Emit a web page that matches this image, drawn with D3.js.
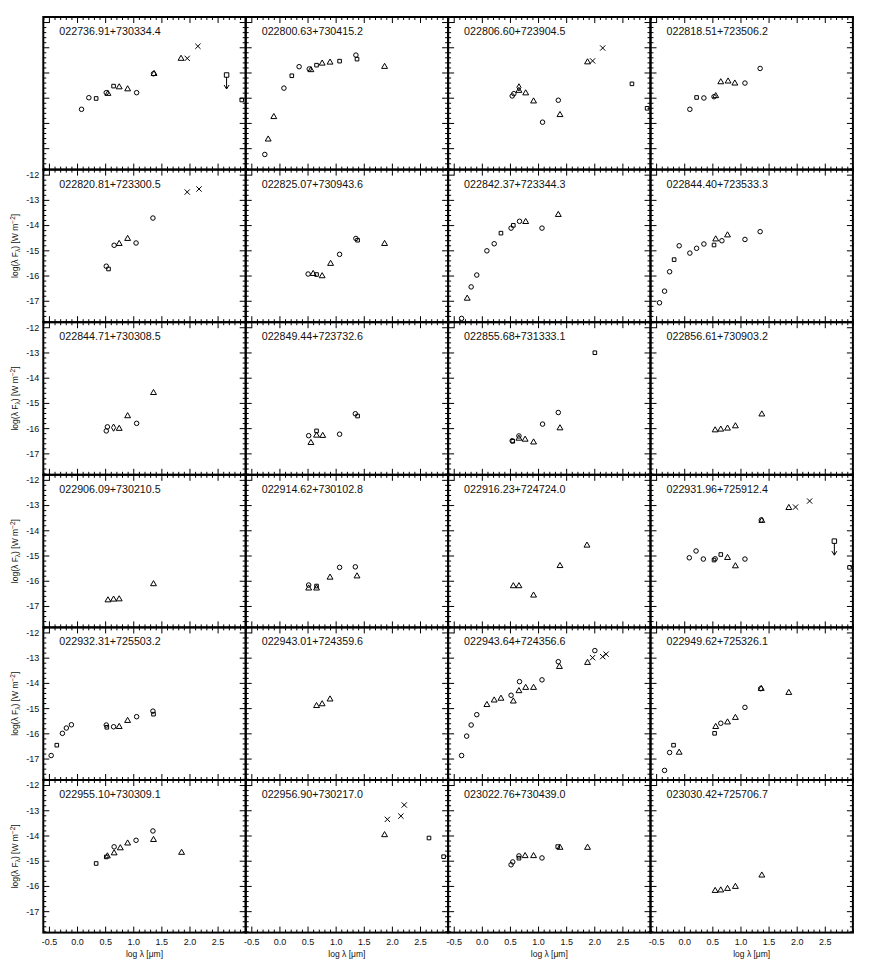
<!DOCTYPE html>
<html><head><meta charset="utf-8">
<script src="https://cdn.jsdelivr.net/npm/d3@7"></script>
<style>
body{margin:0;background:#fff}
text{font-family:"Liberation Sans",Arial,Helvetica,sans-serif;fill:#111}
</style>
</head><body>
<svg id="chart" width="872" height="977"></svg>
<script>
// ---------- data ----------
const names = [
 "022736.91+730334.4","022800.63+730415.2","022806.60+723904.5","022818.51+723506.2",
 "022820.81+723300.5","022825.07+730943.6","022842.37+723344.3","022844.40+723533.3",
 "022844.71+730308.5","022849.44+723732.6","022855.68+731333.1","022856.61+730903.2",
 "022906.09+730210.5","022914.62+730102.8","022916.23+724724.0","022931.96+725912.4",
 "022932.31+725503.2","022943.01+724359.6","022943.64+724356.6","022949.62+725326.1",
 "022955.10+730309.1","022956.90+730217.0","023022.76+730439.0","023030.42+725706.7"];

// [log lambda (um), log(lambda F_lambda) (W m^-2), marker] ; c circle, t triangle, s square, x cross, d diamond, u upper limit
const sed01 = [[0.08,-15.46,"c"],[0.21,-15.00,"c"],[0.34,-15.03,"s"],[0.52,-14.80,"c"],[0.55,-14.84,"t"],[0.65,-14.54,"s"],[0.75,-14.58,"t"],[0.90,-14.66,"t"],[1.06,-14.80,"c"],[1.36,-14.05,"c"],[1.37,-14.05,"t"],[1.85,-13.45,"t"],[1.96,-13.44,"x"],[2.15,-12.96,"x"],[2.66,-14.10,"u"],[2.93,-15.09,"s"]];
const sed02 = [[-0.26,-17.25,"c"],[-0.20,-16.65,"t"],[-0.10,-15.76,"t"],[0.08,-14.62,"c"],[0.22,-14.13,"s"],[0.35,-13.77,"c"],[0.53,-13.86,"c"],[0.56,-13.90,"t"],[0.66,-13.71,"s"],[0.76,-13.64,"t"],[0.90,-13.60,"t"],[1.07,-13.55,"s"],[1.36,-13.31,"c"],[1.38,-13.47,"s"],[1.87,-13.77,"t"]];
const sed03 = [[0.54,-14.93,"c"],[0.57,-14.84,"c"],[0.66,-14.59,"d"],[0.66,-14.72,"t"],[0.78,-14.82,"t"],[0.92,-15.14,"t"],[1.08,-15.97,"c"],[1.36,-15.10,"c"],[1.39,-15.68,"t"],[1.88,-13.59,"t"],[1.97,-13.54,"x"],[2.15,-13.03,"x"],[2.67,-14.45,"s"],[2.94,-15.42,"s"]];
const sed04 = [[0.10,-15.46,"c"],[0.22,-14.99,"s"],[0.35,-15.01,"c"],[0.53,-14.96,"c"],[0.56,-14.93,"t"],[0.65,-14.38,"t"],[0.78,-14.35,"t"],[0.90,-14.43,"t"],[1.08,-14.42,"c"],[1.35,-13.84,"c"]];
const sed05 = [[0.52,-15.63,"c"],[0.56,-15.74,"s"],[0.66,-14.80,"c"],[0.75,-14.74,"t"],[0.90,-14.54,"t"],[1.05,-14.71,"c"],[1.35,-13.72,"c"],[1.96,-12.69,"x"],[2.17,-12.57,"x"]];
const sed06 = [[0.51,-15.94,"c"],[0.60,-15.93,"t"],[0.66,-15.96,"s"],[0.76,-16.02,"t"],[0.91,-15.53,"t"],[1.07,-15.16,"c"],[1.36,-14.53,"c"],[1.39,-14.60,"s"],[1.87,-14.74,"t"]];
const sed07 = [[-0.36,-17.70,"c"],[-0.26,-16.91,"t"],[-0.19,-16.45,"c"],[-0.09,-15.98,"c"],[0.09,-15.02,"c"],[0.22,-14.74,"c"],[0.34,-14.32,"s"],[0.52,-14.12,"c"],[0.56,-14.01,"s"],[0.67,-13.85,"c"],[0.78,-13.87,"t"],[1.07,-14.12,"c"],[1.36,-13.59,"t"]];
const sed08 = [[-0.44,-17.08,"c"],[-0.35,-16.62,"c"],[-0.26,-15.85,"c"],[-0.18,-15.37,"s"],[-0.09,-14.82,"c"],[0.10,-15.11,"c"],[0.22,-14.92,"c"],[0.35,-14.75,"c"],[0.53,-14.79,"s"],[0.56,-14.56,"t"],[0.67,-14.62,"c"],[0.77,-14.40,"t"],[1.08,-14.57,"c"],[1.35,-14.26,"c"]];
const sed09 = [[0.52,-16.11,"c"],[0.54,-15.95,"c"],[0.65,-15.98,"d"],[0.75,-16.02,"t"],[0.90,-15.52,"t"],[1.06,-15.81,"c"],[1.36,-14.60,"t"]];
const sed10 = [[0.52,-16.30,"c"],[0.56,-16.58,"t"],[0.66,-16.11,"s"],[0.66,-16.29,"t"],[0.77,-16.30,"t"],[1.07,-16.24,"c"],[1.35,-15.43,"c"],[1.39,-15.52,"s"]];
const sed11 = [[0.54,-16.50,"c"],[0.55,-16.52,"s"],[0.66,-16.31,"c"],[0.66,-16.41,"t"],[0.77,-16.45,"t"],[0.92,-16.56,"t"],[1.08,-15.84,"c"],[1.36,-15.38,"c"],[1.39,-16.00,"t"],[2.01,-13.01,"s"]];
const sed12 = [[0.55,-16.08,"t"],[0.65,-16.05,"t"],[0.77,-16.01,"t"],[0.91,-15.92,"t"],[1.38,-15.45,"t"]];
const sed13 = [[0.55,-16.77,"t"],[0.65,-16.74,"t"],[0.75,-16.73,"t"],[1.36,-16.13,"t"]];
const sed14 = [[0.52,-16.17,"c"],[0.66,-16.21,"s"],[0.52,-16.30,"t"],[0.66,-16.30,"t"],[0.90,-15.87,"t"],[1.07,-15.47,"c"],[1.35,-15.45,"c"],[1.38,-15.82,"t"]];
const sed15 = [[0.56,-16.21,"t"],[0.66,-16.21,"t"],[0.92,-16.58,"t"],[1.39,-15.41,"t"],[1.87,-14.60,"t"]];
const sed16 = [[0.09,-15.09,"c"],[0.21,-14.82,"c"],[0.34,-15.14,"c"],[0.53,-15.18,"s"],[0.55,-15.13,"c"],[0.65,-14.96,"s"],[0.77,-15.09,"t"],[0.91,-15.42,"t"],[1.08,-15.14,"c"],[1.37,-13.59,"c"],[1.38,-13.62,"t"],[1.86,-13.11,"t"],[1.98,-13.08,"x"],[2.23,-12.84,"x"],[2.67,-14.43,"u"],[2.94,-15.47,"s"]];
const sed17 = [[-0.46,-16.88,"c"],[-0.36,-16.47,"s"],[-0.26,-16.00,"c"],[-0.19,-15.79,"c"],[-0.10,-15.66,"c"],[0.52,-15.67,"c"],[0.53,-15.76,"s"],[0.65,-15.74,"c"],[0.75,-15.74,"t"],[0.90,-15.50,"t"],[1.06,-15.34,"c"],[1.35,-15.12,"c"],[1.36,-15.24,"s"]];
const sed18 = [[0.66,-14.91,"t"],[0.76,-14.84,"t"],[0.90,-14.65,"t"]];
const sed19 = [[-0.36,-16.88,"c"],[-0.27,-16.11,"c"],[-0.19,-15.67,"c"],[-0.09,-15.26,"c"],[0.09,-14.87,"t"],[0.22,-14.69,"t"],[0.34,-14.62,"t"],[0.52,-14.49,"c"],[0.56,-14.73,"t"],[0.67,-13.95,"c"],[0.66,-14.32,"t"],[0.78,-14.19,"t"],[0.92,-14.19,"t"],[1.07,-13.88,"c"],[1.36,-13.16,"c"],[1.38,-13.36,"t"],[1.88,-13.20,"t"],[1.97,-13.00,"x"],[2.01,-12.72,"c"],[2.15,-12.96,"x"],[2.21,-12.86,"x"]];
const sed20 = [[-0.35,-17.47,"c"],[-0.26,-16.76,"c"],[-0.19,-16.47,"s"],[-0.09,-16.76,"t"],[0.54,-16.00,"s"],[0.56,-15.74,"t"],[0.65,-15.60,"c"],[0.77,-15.56,"t"],[0.91,-15.38,"t"],[1.08,-14.97,"c"],[1.36,-14.23,"c"],[1.37,-14.23,"t"],[1.86,-14.39,"t"]];
const sed21 = [[0.34,-15.11,"s"],[0.52,-14.85,"s"],[0.54,-14.82,"t"],[0.66,-14.70,"t"],[0.66,-14.45,"c"],[0.77,-14.50,"t"],[0.90,-14.31,"t"],[1.05,-14.19,"c"],[1.35,-13.82,"c"],[1.36,-14.17,"t"],[1.86,-14.68,"t"]];
const sed22 = [[1.87,-13.98,"t"],[1.92,-13.36,"x"],[2.16,-13.23,"x"],[2.22,-12.79,"x"],[2.66,-14.10,"s"],[2.92,-14.84,"s"]];
const sed23 = [[0.52,-15.16,"c"],[0.55,-15.05,"c"],[0.66,-14.81,"c"],[0.66,-14.90,"s"],[0.77,-14.81,"t"],[0.92,-14.81,"t"],[1.07,-14.89,"c"],[1.35,-14.44,"s"],[1.39,-14.48,"t"],[1.88,-14.48,"t"]];
const sed24 = [[0.55,-16.19,"t"],[0.65,-16.17,"t"],[0.77,-16.11,"t"],[0.91,-16.03,"t"],[1.38,-15.58,"t"]];

const seds = [sed01,sed02,sed03,sed04,sed05,sed06,sed07,sed08,sed09,sed10,sed11,sed12,
              sed13,sed14,sed15,sed16,sed17,sed18,sed19,sed20,sed21,sed22,sed23,sed24];

const xTickValues = [-0.5,0.0,0.5,1.0,1.5,2.0,2.5];
const xTickLabels = ["-0.5","0.0","0.5","1.0","1.5","2.0","2.5"];
const yTickValues = [-12,-13,-14,-15,-16,-17];
const yTickLabels = ["-12","-13","-14","-15","-16","-17"];

// ---------- layout ----------
const nCols = 4, nRows = 6;
const gridLeft = 43.3, gridTop = 17, pw = 202.4, ph = 152.6;
const xDomain = [-0.6, 3.0], yDomain = [-17.85, -11.8];

const svg = d3.select("#chart");
const x = d3.scaleLinear().domain(xDomain).range([0, pw]);
const y = d3.scaleLinear().domain(yDomain).range([ph, 0]);

const xMinor = d3.range(-0.6, 3.0001, 0.1).map(v => +v.toFixed(2)).filter(v => !xTickValues.includes(v));
const yMinor = d3.range(-17.8, -11.79, 0.2).map(v => +v.toFixed(2)).filter(v => !yTickValues.includes(v));

const symX = {draw(ctx, size){const r=Math.sqrt(size)/2;ctx.moveTo(-r,-r);ctx.lineTo(r,r);ctx.moveTo(-r,r);ctx.lineTo(r,-r);}};
const sym = {
  c: d3.symbol().type(d3.symbolCircle).size(16),
  t: d3.symbol().type(d3.symbolTriangle).size(15),
  s: d3.symbol().type(d3.symbolSquare).size(13),
  d: d3.symbol().type(d3.symbolDiamond).size(15),
  x: d3.symbol().type(symX).size(28),
  u: d3.symbol().type(d3.symbolSquare).size(20)
};

function styleAxis(g){
  g.select(".domain").remove();
  g.selectAll(".tick line").attr("stroke","#000").attr("stroke-width",1);
}

seds.forEach((data, i) => {
  const col = i % nCols, row = Math.floor(i / nCols);
  const g = svg.append("g").attr("transform", `translate(${gridLeft + col*pw},${gridTop + row*ph})`);

  // ticks (inward) on all four sides
  g.append("g").call(d3.axisTop(x).tickValues(xTickValues).tickSize(-6).tickFormat("")).call(styleAxis);
  g.append("g").call(d3.axisTop(x).tickValues(xMinor).tickSize(-3).tickFormat("")).call(styleAxis);
  g.append("g").attr("transform",`translate(0,${ph})`).call(d3.axisBottom(x).tickValues(xTickValues).tickSize(-6).tickFormat("")).call(styleAxis);
  g.append("g").attr("transform",`translate(0,${ph})`).call(d3.axisBottom(x).tickValues(xMinor).tickSize(-3).tickFormat("")).call(styleAxis);
  g.append("g").call(d3.axisLeft(y).tickValues(yTickValues).tickSize(-6).tickFormat("")).call(styleAxis);
  g.append("g").call(d3.axisLeft(y).tickValues(yMinor).tickSize(-3).tickFormat("")).call(styleAxis);
  g.append("g").attr("transform",`translate(${pw},0)`).call(d3.axisRight(y).tickValues(yTickValues).tickSize(-6).tickFormat("")).call(styleAxis);
  g.append("g").attr("transform",`translate(${pw},0)`).call(d3.axisRight(y).tickValues(yMinor).tickSize(-3).tickFormat("")).call(styleAxis);

  // frame
  g.append("rect").attr("width", pw).attr("height", ph)
    .attr("fill","none").attr("stroke","#000").attr("stroke-width",2);

  // labels on outer axes
  if (col === 0 && row > 0) {
    const ya = g.append("g").call(d3.axisLeft(y).tickValues(yTickValues).tickSize(0).tickPadding(4)
      .tickFormat((d,k) => yTickLabels[k]));
    ya.select(".domain").remove();
    ya.selectAll("text").style("font-size","9px").style("font-family","'Liberation Sans',Arial,sans-serif").attr("fill","#222");
    const lab = g.append("text").attr("transform",`translate(${-25},${ph/2}) rotate(-90)`)
      .attr("text-anchor","middle").style("font-size","8.5px");
    lab.append("tspan").text("log(λ F");
    lab.append("tspan").attr("dy",2).style("font-size","6.5px").text("λ");
    lab.append("tspan").attr("dy",-2).text(") [W m");
    lab.append("tspan").attr("dy",-3).style("font-size","6.5px").text("−2");
    lab.append("tspan").attr("dy",3).text("]");
  }
  if (row === nRows - 1) {
    const xa = g.append("g").attr("transform",`translate(0,${ph})`)
      .call(d3.axisBottom(x).tickValues(xTickValues).tickSize(0).tickPadding(6)
      .tickFormat((d,k) => xTickLabels[k]));
    xa.select(".domain").remove();
    xa.selectAll("text").style("font-size","9px").style("font-family","'Liberation Sans',Arial,sans-serif").attr("fill","#222");
    g.append("text").attr("x", x(1.2)).attr("y", ph + 24).attr("text-anchor","middle")
      .style("font-size","8.5px").text("log λ [μm]");
  }

  // title
  g.append("text").attr("x", 16).attr("y", 18).style("font-size","10.7px").attr("fill","#222").text(names[i]);

  // markers
  const pts = g.append("g");
  pts.selectAll("path.m").data(data).join("path").attr("class","m")
    .attr("transform", d => `translate(${x(d[0])},${y(d[1])})`)
    .attr("d", d => sym[d[2]]())
    .attr("fill","none").attr("stroke","#000").attr("stroke-width",1);
  // upper-limit arrows
  const ul = data.filter(d => d[2] === "u");
  pts.selectAll("path.ul").data(ul).join("path").attr("class","ul")
    .attr("d", d => { const px=x(d[0]), py=y(d[1]); return `M${px},${py+2}V${py+14}M${px-2.5},${py+10}L${px},${py+14}L${px+2.5},${py+10}`; })
    .attr("fill","none").attr("stroke","#000").attr("stroke-width",1);
});
</script>
</body></html>
